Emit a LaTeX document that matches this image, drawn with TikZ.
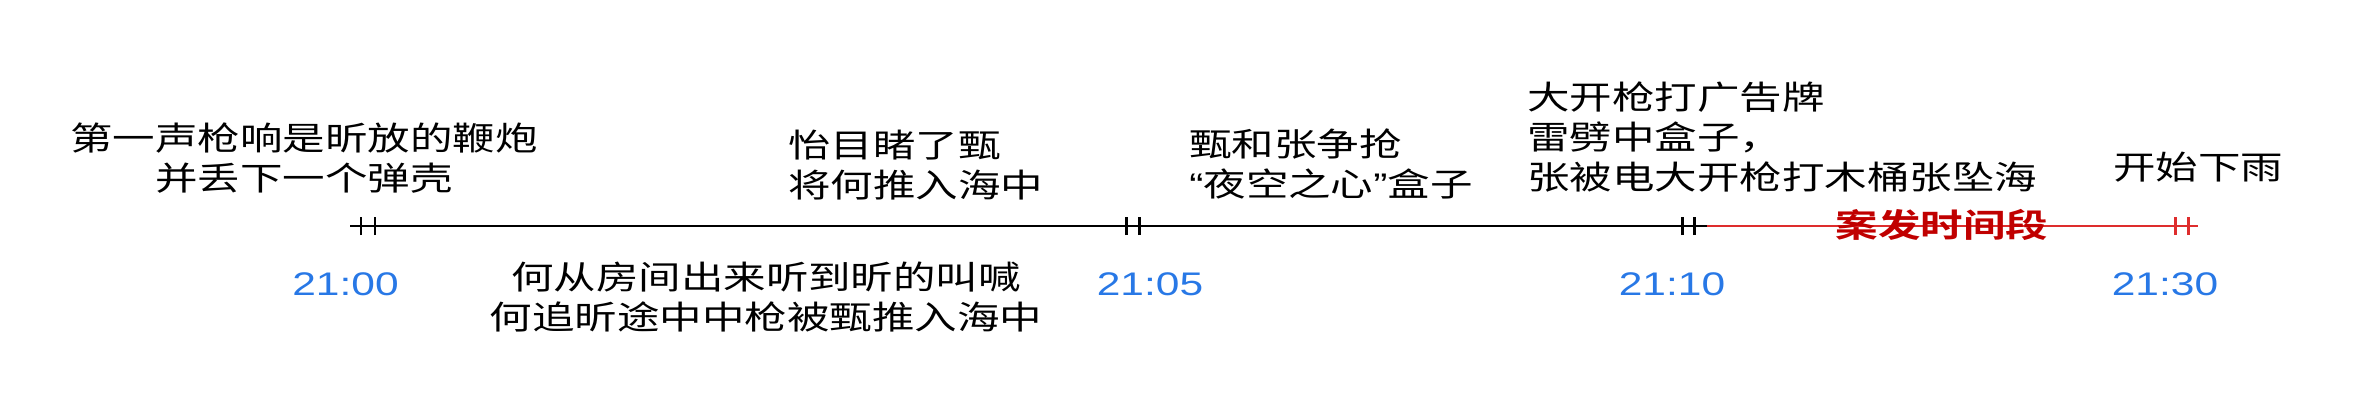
\documentclass[tikz,border=0pt]{standalone}
\usepackage{fontspec}
\newfontfamily\cjk[FakeStretch=1.3,BoldFont={Noto Sans CJK SC Bold}]{Noto Sans CJK SC}
\newfontfamily\latin[FakeStretch=1.3]{Liberation Sans}
\definecolor{stampblue}{RGB}{40,120,230}
\definecolor{caseline}{RGB}{222,45,45}
\definecolor{casetext}{RGB}{192,0,0}

\begin{document}
\begin{tikzpicture}[
		event/.style={font=\cjk\fontsize{18.6pt}{22.76pt}\selectfont, inner sep=0pt},
		period/.style={font=\cjk\fontsize{18.6pt}{22.76pt}\selectfont\bfseries, text=casetext, inner sep=0pt},
		stamp/.style={font=\latin\fontsize{18.6pt}{22pt}\selectfont, text=stampblue, inner sep=0pt, anchor=north},
		tickmark/.style={line width=1.7pt},
		axis/.style={line width=1.3pt}]
		\useasboundingbox (0,0) rectangle (47.18,8.22);
		
		%axis points
		\coordinate (start) at (7.00,3.70);
		\coordinate (a1) at (7.22,3.70);
		\coordinate (a2) at (7.50,3.70);
		\coordinate (b1) at (22.52,3.70);
		\coordinate (b2) at (22.78,3.70);
		\coordinate (c1) at (33.64,3.70);
		\coordinate (c2) at (33.88,3.70);
		\coordinate (red) at (34.14,3.70);
		\coordinate (d1) at (43.50,3.70);
		\coordinate (d2) at (43.76,3.70);
		\coordinate (end) at (43.96,3.70);
		
		%timeline
		\draw[axis] (start) -- (red);
		\draw[axis, caseline] (red) -- (end);
		
		%ticks
		\foreach \p in {a1,a2,b1,b2,c1,c2}
			\draw[tickmark] ([yshift=-0.18cm]\p) -- ([yshift=0.18cm]\p);
		\foreach \p in {d1,d2}
			\draw[tickmark, caseline] ([yshift=-0.18cm]\p) -- ([yshift=0.18cm]\p);
		
		%times
		\node[stamp] (t2100) at (6.91,2.78) {21:00};
		\node[stamp] (t2105) at (23.00,2.78) {21:05};
		\node[stamp] (t2110) at (33.44,2.78) {21:10};
		\node[stamp] (t2130) at (43.30,2.78) {21:30};
		
		%events above
		\node[event, anchor=north, align=center] (firecracker) at (6.08,5.78) {第一声枪响是昕放的鞭炮\\并丢下一个弹壳};
		\node[event, anchor=north west, align=left] (witness) at (15.76,5.62) {怡目睹了甄\\将何推入海中};
		\node[event, anchor=north west, align=left] (grab) at (23.78,5.66) {甄和张争抢\\{\latin “}夜空之心{\latin ”}盒子};
		\node[event, anchor=north west, align=left] (thunder) at (30.54,6.60) {大开枪打广告牌\\雷劈中盒子，\\张被电大开枪打木桶张坠海};
		\node[event, anchor=north west] (rain) at (42.26,5.18) {开始下雨};
		
		%events below
		\node[event, anchor=north, align=center] (chase) at (15.32,2.98) {何从房间出来听到昕的叫喊\\何追昕途中中枪被甄推入海中};
		
		%case period
		\node[period] (span) at (38.84,3.72) {案发时间段};
		
\end{tikzpicture}
\end{document}
